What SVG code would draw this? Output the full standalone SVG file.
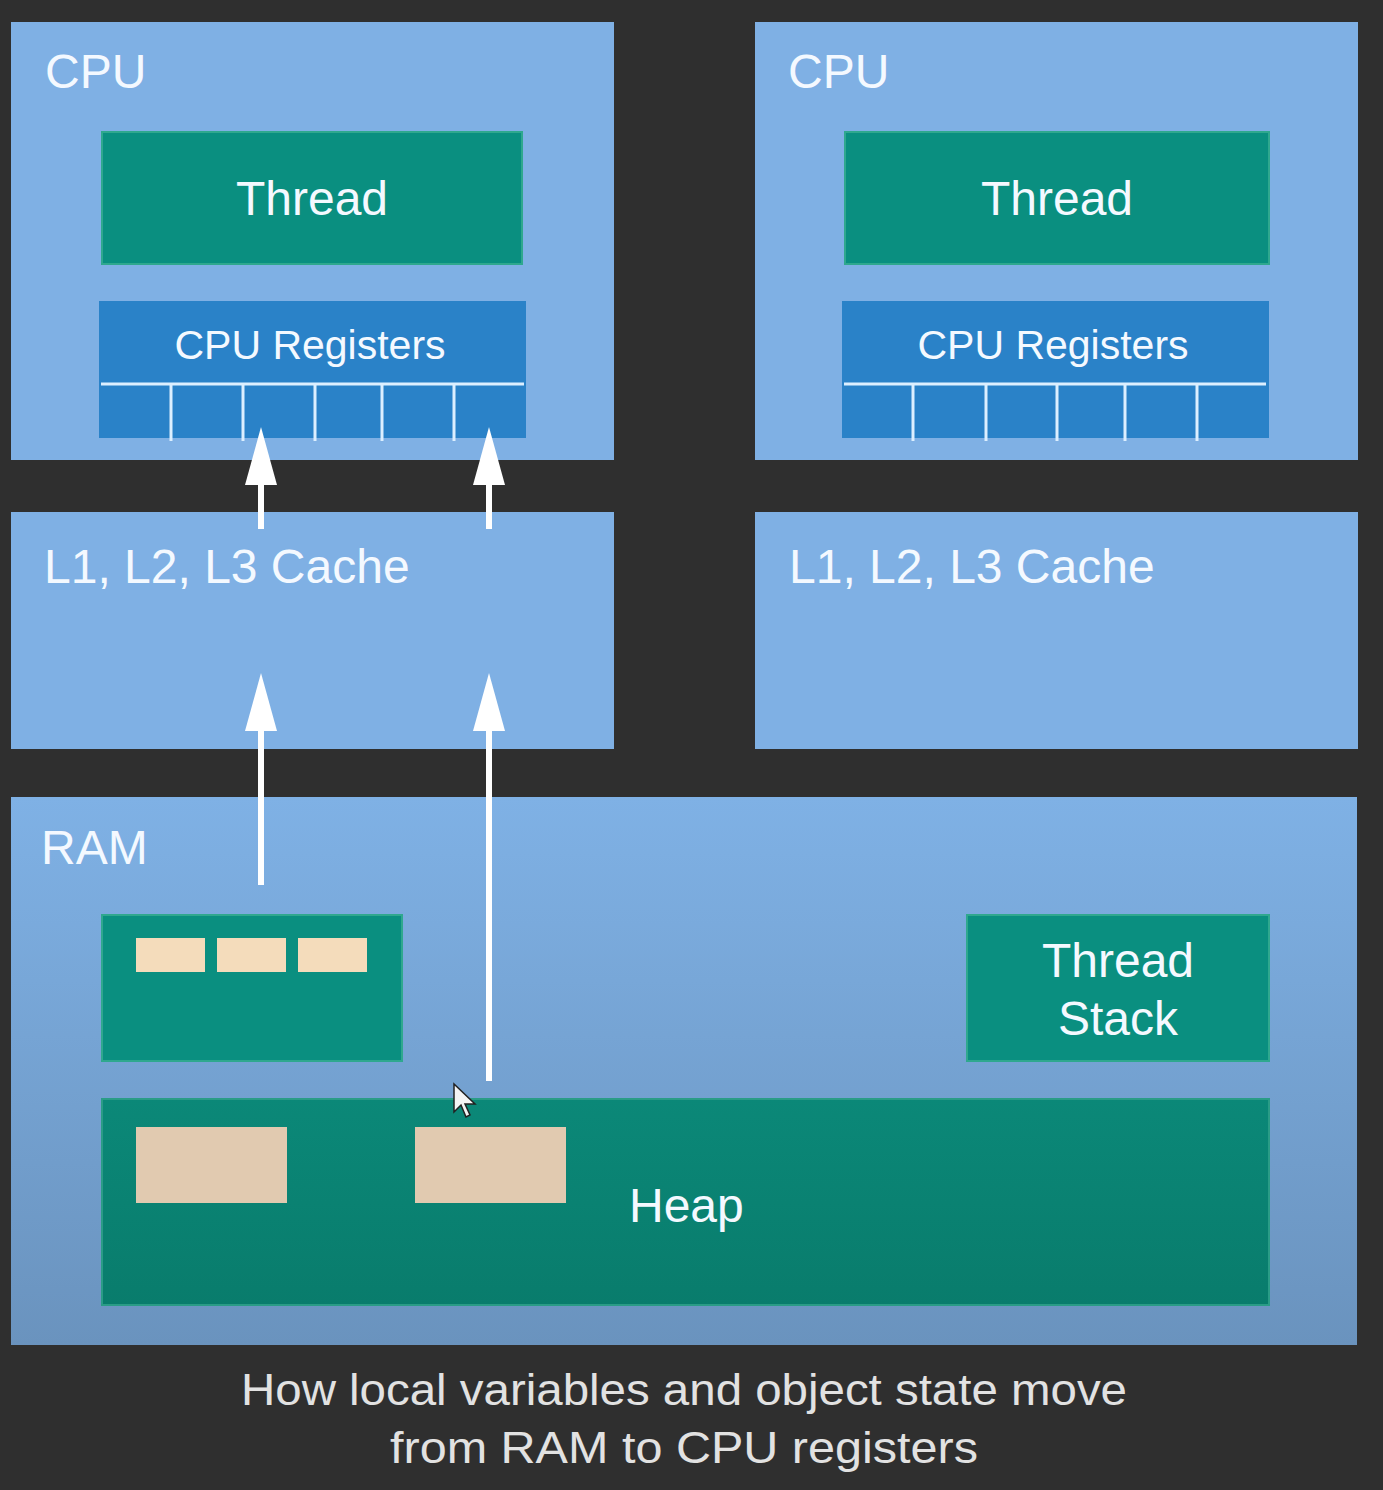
<svg xmlns="http://www.w3.org/2000/svg" width="1383" height="1490" viewBox="0 0 1383 1490">
<defs>
<linearGradient id="ramGrad" x1="0" y1="0" x2="0" y2="1">
<stop offset="0" stop-color="#7fb1e5"/>
<stop offset="1" stop-color="#6a93be"/>
</linearGradient>
<linearGradient id="heapGrad" x1="0" y1="0" x2="0" y2="1">
<stop offset="0" stop-color="#0b8878"/>
<stop offset="1" stop-color="#097c6c"/>
</linearGradient>
<marker id="arrowHead" viewBox="0 0 58 32" refX="1" refY="16" markerWidth="58" markerHeight="32" orient="auto" markerUnits="userSpaceOnUse">
<path d="M0,0 L58,16 L0,32 z" fill="#ffffff"/>
</marker>
</defs>
<style>
.panel{fill:#7fb0e4}
.teal{fill:#0a8f80;stroke:#2fa88e;stroke-width:2}
.reg{fill:#2a82c8}
.regline{stroke:#dcefff;stroke-width:3}
.cream{fill:#f4dcbb}
.cream2{fill:#e1cab0}
.lbl{font-family:"Liberation Sans",Arial,sans-serif;fill:#f4f9ff}
.big{font-size:48px}
.mid{font-size:41px}
.ctr{text-anchor:middle}
.cap{font-family:"Liberation Sans",Arial,sans-serif;font-size:45px;fill:#e2e2e2;text-anchor:middle}
.conn{stroke:#ffffff;stroke-width:6;fill:none}
</style>
<rect width="1383" height="1490" fill="#2f2f2f"/>

<g id="cpu-left">
<rect class="panel" x="11" y="22" width="603" height="438"/>
<text class="lbl big" x="45" y="88">CPU</text>
</g>
<g id="thread-left">
<rect class="teal" x="102" y="132" width="420" height="132"/>
<text class="lbl big ctr" x="312" y="215">Thread</text>
</g>
<g id="registers-left">
<rect class="reg" x="99" y="301" width="427" height="137"/>
<text class="lbl mid ctr" x="310" y="359">CPU Registers</text>
<line class="regline" x1="101" y1="384" x2="524" y2="384"/>
<line class="regline" x1="171" y1="384" x2="171" y2="441"/>
<line class="regline" x1="243" y1="384" x2="243" y2="441"/>
<line class="regline" x1="315" y1="384" x2="315" y2="441"/>
<line class="regline" x1="382" y1="384" x2="382" y2="441"/>
<line class="regline" x1="454" y1="384" x2="454" y2="441"/>
</g>

<g id="cpu-right">
<rect class="panel" x="755" y="22" width="603" height="438"/>
<text class="lbl big" x="788" y="88">CPU</text>
</g>
<g id="thread-right">
<rect class="teal" x="845" y="132" width="424" height="132"/>
<text class="lbl big ctr" x="1057" y="215">Thread</text>
</g>
<g id="registers-right">
<rect class="reg" x="842" y="301" width="427" height="137"/>
<text class="lbl mid ctr" x="1053" y="359">CPU Registers</text>
<line class="regline" x1="844" y1="384" x2="1266" y2="384"/>
<line class="regline" x1="913" y1="384" x2="913" y2="441"/>
<line class="regline" x1="986" y1="384" x2="986" y2="441"/>
<line class="regline" x1="1057" y1="384" x2="1057" y2="441"/>
<line class="regline" x1="1125" y1="384" x2="1125" y2="441"/>
<line class="regline" x1="1197" y1="384" x2="1197" y2="441"/>
</g>

<g id="cache-left">
<rect class="panel" x="11" y="512" width="603" height="237"/>
<text class="lbl big" x="44" y="583">L1, L2, L3 Cache</text>
</g>
<g id="cache-right">
<rect class="panel" x="755" y="512" width="603" height="237"/>
<text class="lbl big" x="789" y="583">L1, L2, L3 Cache</text>
</g>

<g id="ram">
<rect x="11" y="797" width="1346" height="548" fill="url(#ramGrad)"/>
<text class="lbl big" x="41" y="864">RAM</text>
</g>
<g id="stack-left">
<rect class="teal" x="102" y="915" width="300" height="146"/>
<rect class="cream" x="136" y="938" width="69" height="34"/>
<rect class="cream" x="217" y="938" width="69" height="34"/>
<rect class="cream" x="298" y="938" width="69" height="34"/>
</g>
<g id="thread-stack">
<rect class="teal" x="967" y="915" width="302" height="146"/>
<text class="lbl big ctr" x="1118" y="977">Thread</text>
<text class="lbl big ctr" x="1118" y="1035">Stack</text>
</g>
<g id="heap">
<rect x="102" y="1099" width="1167" height="206" fill="url(#heapGrad)" stroke="#2a9c86" stroke-width="2"/>
<rect class="cream2" x="136" y="1127" width="151" height="76"/>
<rect class="cream2" x="415" y="1127" width="151" height="76"/>
<text class="lbl big" x="629" y="1222">Heap</text>
</g>

<g id="connectors">
<line class="conn" x1="261" y1="529" x2="261" y2="484" marker-end="url(#arrowHead)"/>
<line class="conn" x1="489" y1="529" x2="489" y2="484" marker-end="url(#arrowHead)"/>
<line class="conn" x1="261" y1="885" x2="261" y2="730" marker-end="url(#arrowHead)"/>
<line class="conn" x1="489" y1="1081" x2="489" y2="730" marker-end="url(#arrowHead)"/>
</g>

<g id="cursor">
<path d="M454,1084 L454,1112 L461,1105 L466,1117 L470,1115 L465,1104 L475,1104 Z" fill="#f4f4f4" stroke="#222" stroke-width="1.5"/>
</g>

<g id="caption">
<text class="cap" x="684" y="1405" textLength="886" lengthAdjust="spacingAndGlyphs">How local variables and object state move</text>
<text class="cap" x="684" y="1463" textLength="588" lengthAdjust="spacingAndGlyphs">from RAM to CPU registers</text>
</g>
</svg>
